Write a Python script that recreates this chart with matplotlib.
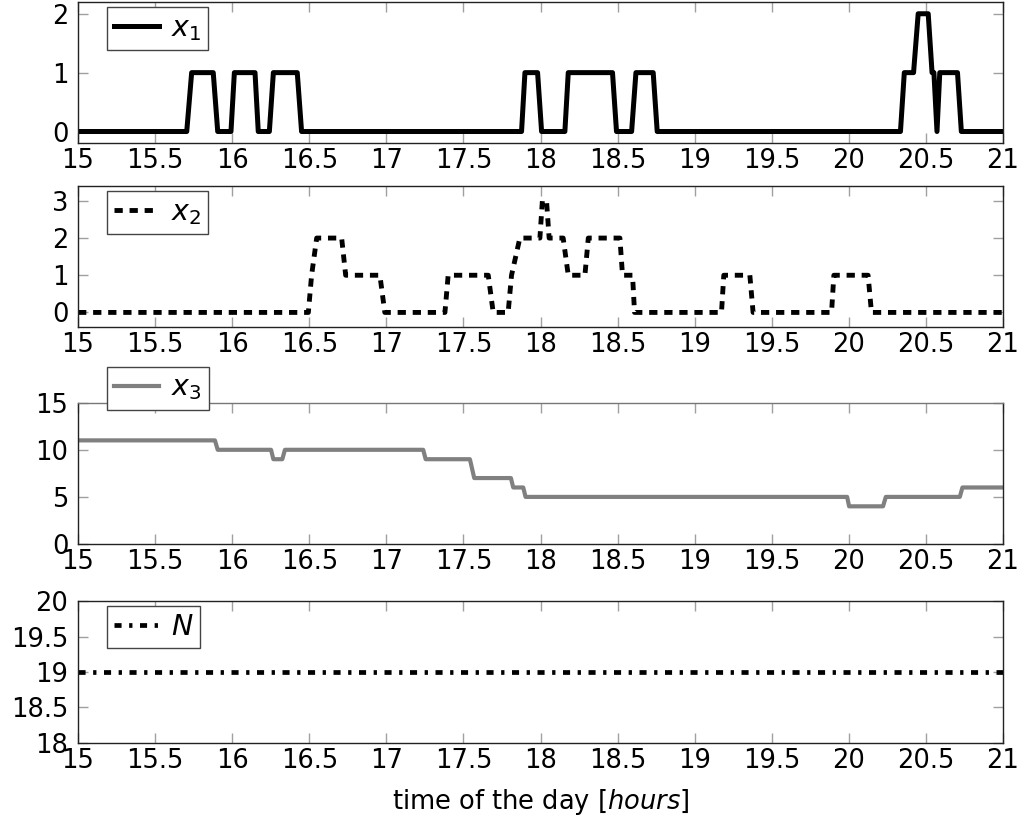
import numpy as np
import matplotlib
matplotlib.use('Agg')
import matplotlib.pyplot as plt
from matplotlib.ticker import FormatStrFormatter

# breakpoints (hours, value)
x1_t = [15.0, 15.705, 15.737, 15.877, 15.906, 15.992, 16.014, 16.148, 16.169,
        16.241, 16.267, 16.422, 16.45, 17.877, 17.899, 17.981, 18.007, 18.158,
        18.18, 18.467, 18.493, 18.591, 18.619, 18.731, 18.757, 20.335, 20.36,
        20.42, 20.45, 20.515, 20.54, 20.552, 20.572, 20.59, 20.705, 20.73, 21.0]
x1_v = [0, 0, 1, 1, 0, 0, 1, 1, 0,
        0, 1, 1, 0, 0, 1, 1, 0, 0,
        1, 1, 0, 0, 1, 1, 0, 0, 1,
        1, 2, 2, 1, 1, 0, 1, 1, 0, 0]

x2_t = [15.0, 16.494, 16.515, 16.548, 16.71, 16.736, 16.958, 16.99, 17.38,
        17.401, 17.661, 17.693, 17.79, 17.812, 17.866, 17.996, 18.012, 18.039,
        18.056, 18.147, 18.18, 18.288, 18.31, 18.515, 18.532, 18.597, 18.61,
        19.174, 19.189, 19.358, 19.379, 19.888, 19.903, 20.125, 20.147, 21.0]
x2_v = [0, 0, 1, 2, 2, 1, 1, 0, 0,
        1, 1, 0, 0, 1, 2, 2, 3, 3,
        2, 2, 1, 1, 2, 2, 1, 1, 0,
        0, 1, 1, 0, 0, 1, 1, 0, 0]

x3_t = [15.0, 15.888, 15.906, 16.252, 16.267, 16.325, 16.342, 17.239, 17.255,
        17.542, 17.57, 17.808, 17.823, 17.888, 17.903, 19.989, 20.002, 20.222,
        20.24, 20.72, 20.737, 21.0]
x3_v = [11, 11, 10, 10, 9, 9, 10, 10, 9,
        9, 7, 7, 6, 6, 5, 5, 4, 4,
        5, 5, 6, 6]

n_t = [15.0, 21.0]
n_v = [19, 19]

xticks = [15, 15.5, 16, 16.5, 17, 17.5, 18, 18.5, 19, 19.5, 20, 20.5, 21]

fs = 18.5
fig = plt.figure(figsize=(10.27, 8.23), dpi=100)

left, width, height = 0.076, 0.9006, 0.1717
bottoms = [0.8259, 0.6023, 0.3390, 0.0976]
axes = [fig.add_axes([left, b, width, height]) for b in bottoms]

ax1, ax2, ax3, ax4 = axes
ax1.plot(x1_t, x1_v, color='black', lw=3.6, label='$x_1$')
ax2.plot(x2_t, x2_v, color='black', lw=3.5, linestyle=(0, (1.7, 1.4)), label='$x_2$')
ax3.plot(x3_t, x3_v, color='#808080', lw=3.0, label='$x_3$')
ax4.plot(n_t, n_v, color='black', lw=3.4, linestyle=(0, (1.5, 1.6, 0.7, 1.6)), label='$N$')

ax1.set_ylim(-0.2, 2.2)
ax1.set_yticks([0, 1, 2])
ax2.set_ylim(-0.4, 3.4)
ax2.set_yticks([0, 1, 2, 3])
ax3.set_ylim(0, 15)
ax3.set_yticks([0, 5, 10, 15])
ax4.set_ylim(18, 20)
ax4.set_yticks([18, 18.5, 19, 19.5, 20])

legend_tops = [0.967, 0.967, 1.256, 0.968]
for ax, top in zip(axes, legend_tops):
    ax.set_xlim(15, 21)
    ax.set_xticks(xticks)
    ax.xaxis.set_major_formatter(FormatStrFormatter('%g'))
    ax.yaxis.set_major_formatter(FormatStrFormatter('%g'))
    ax.tick_params(direction='in', length=7, width=1, color='#a0a0a0',
                   top=True, right=True, labelsize=fs)
    ax.tick_params(axis='x', pad=3.5)
    ax.tick_params(axis='y', pad=7)
    for s in ax.spines.values():
        s.set_linewidth(1)
        s.set_color('#222222')
    leg = ax.legend(loc='upper left', bbox_to_anchor=(0.031, top), borderaxespad=0,
                    fontsize=20.5, handlelength=1.6, handletextpad=0.4, borderpad=0.25,
                    fancybox=False, framealpha=1, edgecolor='#444444')
    leg.get_frame().set_linewidth(1)

ax3.spines['top'].set_color('#777777')
ax4.set_xlabel('time of the day [$hours$]', fontsize=fs, labelpad=10)

fig.savefig('out.png', dpi=100)
